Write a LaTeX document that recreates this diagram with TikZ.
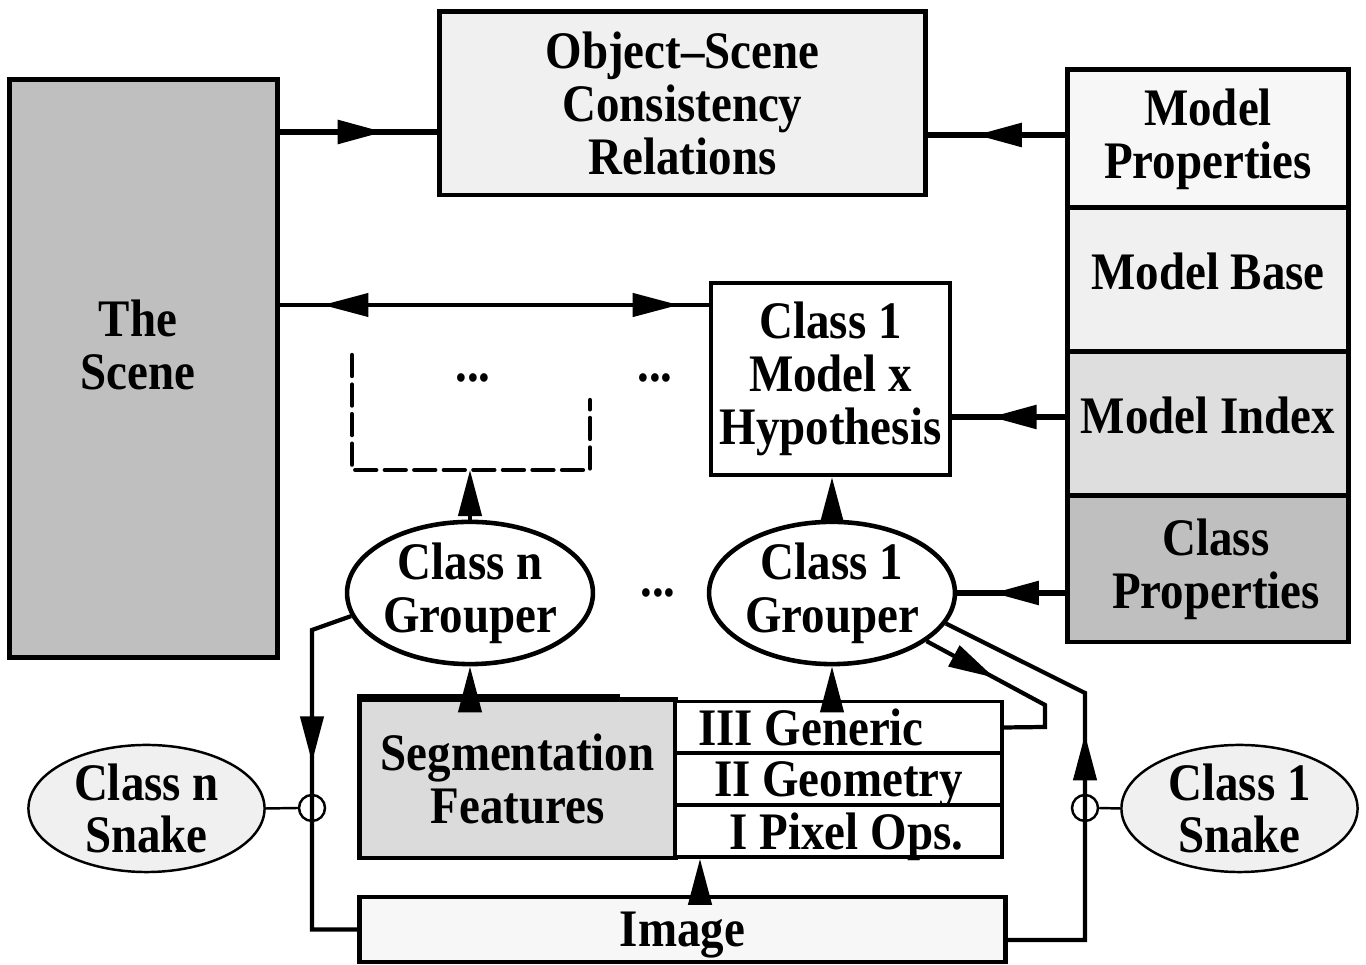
\documentclass[tikz,border=0pt]{standalone}
\usepackage{fontspec}
\setmainfont[FakeStretch=0.89]{Liberation Serif}
\usetikzlibrary{arrows.meta,shapes.geometric,decorations.markings,positioning}

\definecolor{paleGray}{gray}{0.97}
\definecolor{softGray}{gray}{0.94}
\definecolor{midGray}{gray}{0.87}
\definecolor{featGray}{gray}{0.86}
\definecolor{sceneGray}{gray}{0.75}

\begin{document}
\begin{tikzpicture}[x=0.01cm,y=-0.01cm,
                    every node/.style={font=\bfseries\fontsize{15}{15}\selectfont, align=center},
                    box/.style={draw, line width=1.4pt, inner sep=0pt},
                    layer/.style={draw, line width=1pt, fill=white, inner sep=0pt, text depth=0pt, minimum width=3.27cm, minimum height=0.52cm},
                    grouper/.style={ellipse, draw, line width=1.3pt, fill=white, inner sep=0pt, minimum width=2.38cm, minimum height=1.27cm},
                    snake/.style={ellipse, draw, line width=0.7pt, fill=softGray, inner sep=0pt, minimum width=2.36cm, minimum height=1.13cm},
                    knot/.style={circle, draw, line width=0.7pt, inner sep=0pt, minimum size=0.26cm},
                    link/.style={line width=1.6pt},
                    feedline/.style={line width=1.2pt},
                    tip/.style={-{Triangle[length=4.6mm,width=2.3mm]}},
                    midarrow/.style={postaction={decorate}, decoration={markings,
                        mark=at position #1 with {\arrow{Triangle[length=4.6mm,width=2.3mm]}}}},
                    twoway/.style={postaction={decorate}, decoration={markings,
                        mark=at position 0.1 with {\arrowreversed{Triangle[length=4.6mm,width=2.3mm]}},
                        mark=at position 0.93 with {\arrow{Triangle[length=4.6mm,width=2.3mm]}}}},
                    dashbox/.style={line width=1.2pt, line cap=round, dash pattern=on 6pt off 2.4pt}]

  \useasboundingbox (0,0) rectangle (1366,965);

  % left and top
  \node[box, fill=sceneGray, minimum width=2.67cm, minimum height=5.77cm] at (143.5,368.5) (scene) {};
  \node at (138,345)                                                               (scenelbl) {The\\Scene};
  \node[box, fill=softGray, minimum width=4.85cm, minimum height=1.83cm] at (682.5,103.5) (osc) {Object--Scene\\Consistency\\Relations};

  % model stack
  \node[box, fill=paleGray,  minimum width=2.80cm, minimum height=1.38cm] at (1208,139) (mprop)  {Model\\Properties};
  \node[box, fill=softGray,  minimum width=2.80cm, minimum height=1.44cm, text depth=0.18cm] at (1208,280) (mbase)  {Model Base};
  \node[box, fill=midGray,   minimum width=2.80cm, minimum height=1.44cm, text depth=0.18cm] at (1208,424) (mindex) {Model Index};
  \node[box, fill=sceneGray, minimum width=2.80cm, minimum height=1.46cm] at (1208,569) (cprop)  {\hspace*{0.16cm}Class\\\hspace*{0.16cm}Properties};

  % hypotheses and groupers
  \node[box, line width=1.2pt, fill=white, minimum width=2.39cm, minimum height=1.92cm] at (830.5,379) (hyp) {Class 1\\Model x\\Hypothesis};
  \draw[dashbox] (352,355) -- (352,470) -- (590,470) -- (590,400);
  \coordinate (dbox) at (470,470);
  \node at (473,378) (dotsa) {...};
  \node at (655,378) (dotsb) {...};

  \node[grouper] at (470,593)   (gn)    {Class n\\Grouper};
  \node[grouper] at (832,593)   (g1)    {Class 1\\Grouper};
  \node          at (658,593)   (dotsc) {...};

  % features and image
  \node[box, fill=featGray, minimum width=3.15cm, minimum height=1.58cm] at (517.5,779) (segfeat) {Segmentation\\Features};
  \draw[line width=1pt] ([yshift=0.02cm]segfeat.north west) -- ([yshift=0.02cm, xshift=2.62cm]segfeat.north west);
  \node[layer] at (838.5,727.5) (gen) {III Generic\hspace*{0.55cm}};
  \node[layer] at (838.5,779)   (geo) {II Geometry};
  \node[layer] at (838.5,831)   (pix) {\hspace*{0.16cm}I Pixel Ops.};
  \node[box, fill=paleGray, minimum width=6.45cm, minimum height=0.65cm, text depth=0pt] at (682.5,929.5) (img) {Image};

  % snakes
  \node[snake] at (146.5,808.5)  (snn) {Class n\\Snake};
  \node[snake] at (1239.5,808.5) (sn1) {Class 1\\Snake};
  \node[knot]  at (312,808)      (cn)  {};
  \node[knot]  at (1085,808)     (c1)  {};

  % connectors
  \draw[link, midarrow=0.66] (scene.east |- 0,132) -- (osc.west |- 0,132);
  \draw[link, midarrow=0.65] (mprop.west |- 0,135) -- (osc.east |- 0,135);
  \draw[feedline, twoway]    (scene.east |- 0,305) -- (hyp.west |- 0,305);
  \draw[link, midarrow=0.66] (mindex.west |- 0,417) -- (hyp.east |- 0,417);
  \draw[link, midarrow=0.67] (cprop.west |- g1.east) -- (g1.east);

  \path[feedline, tip] (gn.north)              edge (dbox)
                       (g1.north)              edge (g1.north |- hyp.south)
                       (gn.south |- segfeat.north) edge (gn.south)
                       (g1.south |- gen.north) edge (g1.south)
                       (700,0 |- img.north)    edge (700,0 |- pix.south);

  \draw[line width=0.7pt] (snn.east) -- (cn.west);
  \draw[line width=0.7pt] (sn1.west) -- (c1.east);

  \draw[feedline, midarrow=0.45] (gn.191) -- (cn |- 0,630) -- (cn |- img.west) -- (img.west);
  \draw[feedline, midarrow=0.59] (img.east |- 0,940) -- (c1 |- 0,940) -- (c1 |- 0,693) -- (g1.345);
  \draw[feedline, midarrow=0.39] (g1.333) -- (1045,705) -- (1045,727) -- (gen.east);

\end{tikzpicture}
\end{document}
